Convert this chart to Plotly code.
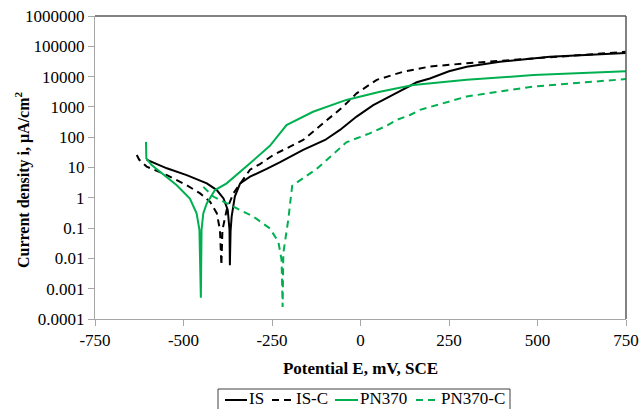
import plotly.graph_objects as go

# Potential (mV vs SCE) and current density (uA/cm2)
is_E = [-604, -590, -575, -547, -491, -434, -406, -387, -375, -370, -369, -367, -364, -355, -340,
        -312, -293, -265, -227, -162, -100, -58, -11, 36, 102, 159, 196, 250, 300, 394, 535, 750]
is_i = [18, 15, 13, 9.4, 5.6, 3.0, 1.8, 0.95, 0.4, 0.087, 0.006, 0.08, 0.24, 1.1, 3.0,
        5.0, 6.5, 9.0, 15, 38, 81, 174, 480, 1150, 2900, 6500, 8700, 15000, 21000, 31000, 45000, 60000]

isc_E = [-632, -625, -604, -547, -491, -453, -425, -406, -397, -393, -390, -378, -359, -331,
         -312, -284, -246, -162, -96, -49, -11, 46, 121, 196, 300, 488, 750]
isc_i = [26, 18, 10.7, 5.6, 2.6, 1.4, 0.74, 0.31, 0.087, 0.006, 0.087, 0.4, 1.4, 3.9,
         8.5, 13, 26, 81, 370, 1020, 2800, 7800, 14500, 21500, 27500, 40000, 66000]

pn_E = [-606, -605, -590, -566, -519, -482, -463, -455, -451, -449, -444, -434, -411, -378,
        -350, -312, -256, -209, -134, -40, 55, 149, 300, 488, 750]
pn_i = [70, 20, 12, 7.3, 2.6, 0.95, 0.31, 0.087, 0.0005, 0.087, 0.31, 0.66, 1.8, 3.0,
        5.6, 13.8, 52, 250, 690, 1700, 3150, 5300, 7800, 11200, 15000]

pnc_E = [-444, -416, -359, -303, -256, -232, -223, -220, -218, -204, -193, -171, -152, -124,
         -86, -40, 26, 74, 102, 140, 168, 196, 300, 488, 750]
pnc_i = [2.3, 1.1, 0.51, 0.24, 0.098, 0.035, 0.009, 0.00025, 0.015, 0.19, 2.5, 3.8, 5.5, 9.0,
         22, 68, 134, 240, 370, 540, 800, 1000, 2200, 4700, 8300]

series_names = ["IS", "IS-C", "PN370", "PN370-C"]
x_ticks = [-750, -500, -250, 0, 250, 500, 750]
x_labels = ["-750", "-500", "-250", "0", "250", "500", "750"]
y_ticks = [0.0001, 0.001, 0.01, 0.1, 1, 10, 100, 1000, 10000, 100000, 1000000]
y_labels = ["0.0001", "0.001", "0.01", "0.1", "1", "10", "100", "1000", "10000", "100000", "1000000"]

GREEN = "#00b050"
FONT = "Liberation Serif"
DASH = "7px,5px"
styles = [("black", "solid"), ("black", DASH), (GREEN, "solid"), (GREEN, DASH)]
data = [(is_E, is_i), (isc_E, isc_i), (pn_E, pn_i), (pnc_E, pnc_i)]

fig = go.Figure()
for (xs, ys), name, (col, dash) in zip(data, series_names, styles):
    fig.add_trace(go.Scatter(x=xs, y=ys, mode="lines", name=name, showlegend=False,
                             line=dict(color=col, width=2, dash=dash)))

# plot area in pixels: x 95..626, y 16..319
L, R, T, B = 95, 626, 16, 319
def px(x):
    return (x - L) / (R - L)
def py(y):
    return (B - y) / (B - T)

fig.update_layout(
    width=641, height=409,
    margin=dict(l=L, r=641 - R, t=T, b=409 - B, autoexpand=False),
    paper_bgcolor="white", plot_bgcolor="white",
    font=dict(family=FONT, size=17, color="black"),
    showlegend=False,
    xaxis=dict(range=[-750, 750], tickvals=x_ticks, ticktext=x_labels, showgrid=False,
               zeroline=False, automargin=False,
               showline=True, linecolor="#a6a6a6", linewidth=1, ticks="outside",
               ticklen=6, tickcolor="#a6a6a6",
               tickfont=dict(family=FONT, size=17),
               title=dict(text="<b>Potential E, mV, SCE</b>", font=dict(family=FONT, size=17),
                          standoff=12)),
    yaxis=dict(type="log", range=[-4, 6], tickvals=y_ticks, ticktext=y_labels,
               showgrid=False, zeroline=False, automargin=False, showline=True,
               linecolor="#a6a6a6", linewidth=1, ticks="outside", ticklen=6,
               tickcolor="#a6a6a6", tickfont=dict(family=FONT, size=17)),
)
# y-axis title
fig.add_annotation(xref="paper", yref="paper", x=px(22), y=py(180), text="<b>Current density i, μA/cm<sup>2</sup></b>",
                   textangle=-90, showarrow=False, font=dict(family=FONT, size=16),
                   xanchor="center", yanchor="middle")
# darker top and right frame lines
fig.add_shape(type="line", xref="paper", yref="paper", x0=0, x1=1, y0=1, y1=1,
              line=dict(color="#595959", width=1.5))
fig.add_shape(type="line", xref="paper", yref="paper", x0=1, x1=1, y0=0, y1=1,
              line=dict(color="#595959", width=1.5))

# legend box (bottom edge is cut off by the picture, as in the reference)
fig.add_shape(type="rect", xref="paper", yref="paper", x0=px(218), x1=px(510), y0=py(415), y1=py(389),
              line=dict(color="#404040", width=1), fillcolor="rgba(0,0,0,0)")
legend_pos = [(225, 247, 249), (272, 293, 296), (335, 358, 360), (416, 438, 441)]
ly = 400
for (x0, x1, tx), name, (col, dash) in zip(legend_pos, series_names, styles):
    fig.add_shape(type="line", xref="paper", yref="paper", x0=px(x0), x1=px(x1), y0=py(ly), y1=py(ly),
                  line=dict(color=col, width=2, dash=dash))
    fig.add_annotation(xref="paper", yref="paper", x=px(tx), y=py(409), text=name, showarrow=False,
                       xanchor="left", yanchor="bottom", font=dict(family=FONT, size=17),
                       borderpad=0, xshift=-1)

fig.write_html("out.html", config={"displayModeBar": False},
               post_script="document.body.style.margin='0';document.body.style.overflow='hidden';")
